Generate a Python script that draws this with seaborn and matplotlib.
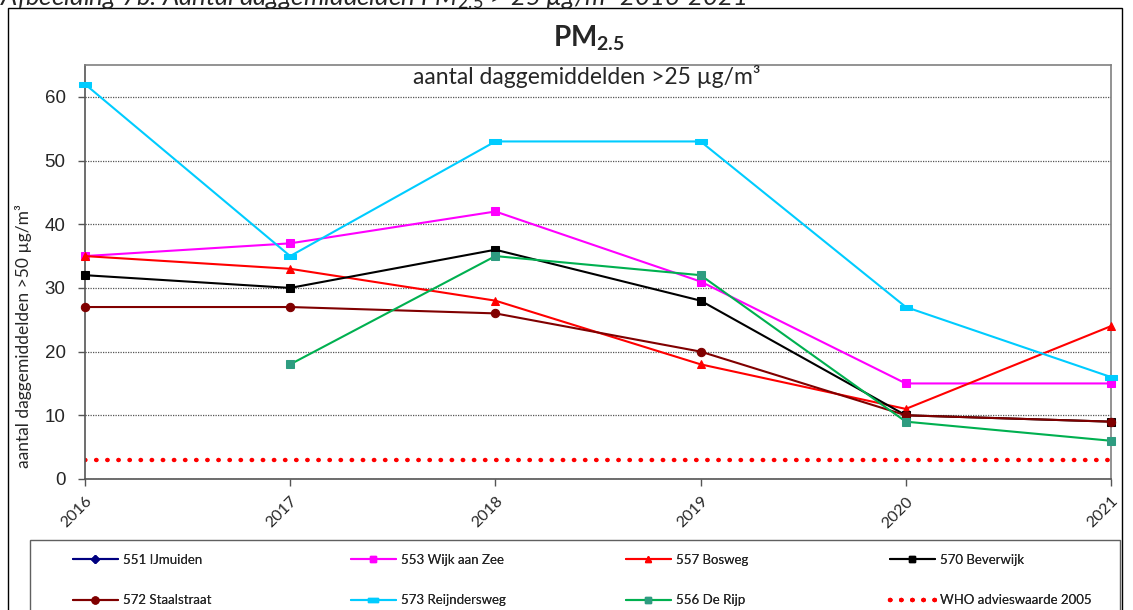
import numpy as np
import matplotlib
matplotlib.use("Agg")
import matplotlib.pyplot as plt
from matplotlib.lines import Line2D
from matplotlib.patches import Rectangle
from matplotlib.path import Path
import seaborn as sns

# ------------------------------------------------------------
# Data
# ------------------------------------------------------------
years = [2016, 2017, 2018, 2019, 2020, 2021]

ijmuiden_551 = [np.nan] * 6
wijk_aan_zee_553 = [35, 37, 42, 31, 15, 15]
bosweg_557 = [35, 33, 28, 18, 11, 24]
beverwijk_570 = [32, 30, 36, 28, 10, 9]
staalstraat_572 = [27, 27, 26, 20, 10, 9]
reijndersweg_573 = [62, 35, 53, 53, 27, 16]
de_rijp_556 = [np.nan, 18, 35, 32, 9, 6]
who_2005 = [3, 3, 3, 3, 3, 3]

y_ticks = [0, 10, 20, 30, 40, 50, 60]

# ------------------------------------------------------------
# Style
# ------------------------------------------------------------
sns.set_style("white")
plt.rcParams["font.family"] = ["Lato", "DejaVu Sans"]
plt.rcParams["mathtext.fontset"] = "custom"
plt.rcParams["mathtext.rm"] = "Lato"
plt.rcParams["mathtext.it"] = "Lato:italic"
plt.rcParams["mathtext.bf"] = "Lato:bold"

bar_marker = Path([(-1, -0.45), (1, -0.45), (1, 0.45), (-1, 0.45), (-1, -0.45)],
                  [Path.MOVETO, Path.LINETO, Path.LINETO, Path.LINETO, Path.CLOSEPOLY])

series = [
    ("551 IJmuiden", ijmuiden_551, "#000080", "#000080", "D", 5),
    ("553 Wijk aan Zee", wijk_aan_zee_553, "#FF00FF", "#FF00FF", "s", 6),
    ("557 Bosweg", bosweg_557, "#FF0000", "#FF0000", "^", 6),
    ("570 Beverwijk", beverwijk_570, "#000000", "#000000", "s", 6),
    ("572 Staalstraat", staalstraat_572, "#800000", "#800000", "o", 6),
    ("573 Reijndersweg", reijndersweg_573, "#00CCFF", "#00CCFF", bar_marker, 8),
    ("556 De Rijp", de_rijp_556, "#00B050", "#2E9C80", "s", 6),
]

fig = plt.figure(figsize=(11.33, 6.10), dpi=100)
ax = fig.add_axes([0.075, 0.2148, 0.9056, 0.6786])

handles = {}
for name, values, color, mcolor, marker, msize in series:
    if not np.all(np.isnan(values)):
        sns.lineplot(x=years, y=values, ax=ax, color=color, linewidth=1.5,
                     marker=marker, markersize=msize, markerfacecolor=mcolor,
                     markeredgecolor=mcolor, clip_on=False, zorder=3)
    handles[name] = Line2D([], [], color=color, linewidth=1.5, marker=marker,
                           markersize=msize - 1, markerfacecolor=mcolor,
                           markeredgecolor=mcolor)

sns.lineplot(x=years, y=who_2005, ax=ax, color="#FF0000", linewidth=3.2,
             linestyle=(0, (0.1, 2.4)), zorder=2)
ax.lines[-1].set_dash_capstyle("round")
handles["WHO advieswaarde 2005"] = Line2D([], [], color="#FF0000", linewidth=3.2,
                                          linestyle=(0, (0.1, 2.4)),
                                          dash_capstyle="round")

# ------------------------------------------------------------
# Axes
# ------------------------------------------------------------
ax.set_xlim(2016, 2021)
ax.set_ylim(0, 65)
ax.set_xticks(years)
ax.set_xticklabels([str(y) for y in years], rotation=45, ha="right",
                   rotation_mode="anchor", fontsize=11.5)
ax.set_yticks(y_ticks)
ax.set_yticklabels([str(t) for t in y_ticks], fontsize=13.5,
                   family="Liberation Sans")
ax.tick_params(axis="both", direction="out", length=5, width=1,
               color="#555555", bottom=True, left=True)
ax.tick_params(axis="x", pad=6)
ax.tick_params(axis="y", pad=9)
ax.yaxis.grid(True, color="#555555", linestyle=(0, (1, 1)), linewidth=0.9)
ax.xaxis.grid(False)
for side in ["top", "right"]:
    ax.spines[side].set_color("#808080")
    ax.spines[side].set_linewidth(1.2)
for side in ["left", "bottom"]:
    ax.spines[side].set_color("#555555")
    ax.spines[side].set_linewidth(1.2)

ax.set_ylabel("aantal daggemiddelden >50 µg/m³", fontsize=12.5)
ax.yaxis.set_label_coords(-0.052, 0.345)
ax.set_xlabel("")

ax.text(0.489, 0.973, "aantal daggemiddelden >25 µg/m³", transform=ax.transAxes,
        ha="center", va="center", fontsize=16.5)

fig.text(0.52, 0.938, r"$\mathbf{PM_{2.5}}$", ha="center", va="center",
         fontsize=20)

# caption above the chart (cut off at the top edge)
fig.text(0.0, 1 - 5 / 610,
         "Afbeelding 7b: Aantal daggemiddelden PM$_{2.5}$ > 25 µg/m³ 2016-2021",
         ha="left", va="baseline", fontsize=18.5, style="italic")

# outer chart border
fig.patches.append(Rectangle((0.007, -0.05), 0.983, 1.037, transform=fig.transFigure,
                             fill=False, edgecolor="black", linewidth=1))

# legend box
fig.patches.append(Rectangle((30 / 1133, -0.05), 1090 / 1133, 0.05 + 70 / 610,
                             transform=fig.transFigure, fill=False,
                             edgecolor="#606060", linewidth=1))

# ------------------------------------------------------------
# Legend: one small legend per column
# ------------------------------------------------------------
columns = [
    (73, ["551 IJmuiden", "572 Staalstraat"]),
    (351, ["553 Wijk aan Zee", "573 Reijndersweg"]),
    (626, ["557 Bosweg", "556 De Rijp"]),
    (890, ["570 Beverwijk", "WHO advieswaarde 2005"]),
]
for x_px, names in columns:
    leg = fig.legend([handles[k] for k in names], names, loc="upper left",
                     bbox_to_anchor=(x_px / 1133, 1 - 554 / 610),
                     frameon=False, fontsize=9.5, handlelength=3.4,
                     handletextpad=0.4, labelspacing=2.15, borderpad=0,
                     borderaxespad=0)
    fig.add_artist(leg)

fig.savefig("out.png", dpi=100)
